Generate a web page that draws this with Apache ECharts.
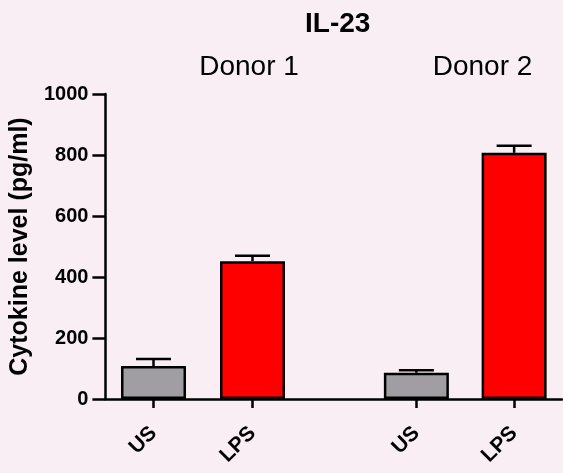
<!DOCTYPE html>
<html>
<head>
<meta charset="utf-8">
<script src="https://cdn.jsdelivr.net/npm/echarts@6/dist/echarts.min.js"></script>
<style>
html,body{margin:0;padding:0;background:#f8eef4;}
#c{width:563px;height:473px;}
</style>
</head>
<body>
<div id="c"></div>
<script>
var titleText = 'IL-23';
var groupNames = ['Donor 1', 'Donor 2'];
var categories = ['US', 'LPS'];
var donor1Mean = [108, 452];
var donor1Err = [23, 18];
var donor2Mean = [86, 807];
var donor2Err = [8, 23];
var yTicks = [0, 200, 400, 600, 800, 1000];
var barColors = ['#a09ea3', '#ff0000'];

var FONT = '"Liberation Sans", Arial, Helvetica, sans-serif';
var chart = echarts.init(document.getElementById('c'));

var gridTop = 94, gridBottom = 74;
var yMin = yTicks[0], yMax = yTicks[yTicks.length - 1], yStep = yTicks[1] - yTicks[0];

function barSeries(idx, means) {
  return {
    type: 'bar', xAxisIndex: idx, yAxisIndex: idx,
    barWidth: 65,
    data: means.map(function (v, i) {
      return { value: v, itemStyle: { color: barColors[i] } };
    }),
    itemStyle: { borderColor: '#000', borderWidth: 2.5 },
    z: 3, silent: true
  };
}
function errSeries(idx, means, errs) {
  return {
    type: 'custom', xAxisIndex: idx, yAxisIndex: idx, z: 2, silent: true,
    data: means.map(function (v, i) { return [i, v, v + errs[i]]; }),
    renderItem: function (params, api) {
      var base = api.coord([api.value(0), api.value(1)]);
      var top = api.coord([api.value(0), api.value(2)]);
      var hw = 17.5;
      var st = { stroke: '#000', lineWidth: 2.5 };
      return { type: 'group', children: [
        { type: 'line', shape: { x1: base[0], y1: base[1], x2: top[0], y2: top[1] }, style: st },
        { type: 'line', shape: { x1: top[0] - hw, y1: top[1], x2: top[0] + hw, y2: top[1] }, style: st }
      ]};
    }
  };
}

function catAxis(idx) {
  return {
    type: 'category', gridIndex: idx, data: categories,
    axisLine: { show: false },
    axisTick: { show: true, alignWithLabel: true, length: 9, lineStyle: { color: '#000', width: 2.5 } },
    axisLabel: { rotate: 45, margin: 31, color: '#000', fontWeight: 'bold', fontSize: 21, fontFamily: FONT }
  };
}
function hiddenY(idx) {
  return { type: 'value', gridIndex: idx, min: yMin, max: yMax, interval: yStep, show: false };
}

var option = {
  backgroundColor: '#f8eef4',
  animation: false,
  grid: [
    { left: 104, right: 1, top: gridTop, bottom: gridBottom },
    { left: 104, width: 198, top: gridTop, bottom: gridBottom },
    { left: 367.5, width: 198, top: gridTop, bottom: gridBottom }
  ],
  xAxis: [
    { type: 'value', gridIndex: 0, min: 0, max: 1,
      axisLine: { show: true, lineStyle: { color: '#000', width: 2.5 } },
      axisTick: { show: false }, axisLabel: { show: false }, splitLine: { show: false } },
    catAxis(1), catAxis(2)
  ],
  yAxis: [
    { type: 'value', gridIndex: 0, min: yMin, max: yMax, interval: yStep,
      name: 'Cytokine level (pg/ml)', nameLocation: 'middle', nameGap: 70,
      nameTextStyle: { color: '#000', fontWeight: 'bold', fontSize: 25, fontFamily: FONT },
      axisLine: { show: true, lineStyle: { color: '#000', width: 2.5 } },
      axisTick: { show: true, length: 13, lineStyle: { color: '#000', width: 2.5 } },
      axisLabel: { margin: 17, color: '#000', fontWeight: 'bold', fontSize: 20, fontFamily: FONT,
        formatter: function (v) { return String(v); } },
      splitLine: { show: false } },
    hiddenY(1), hiddenY(2)
  ],
  graphic: [
    { type: 'text', left: 339 - 34, top: 10, style: { text: titleText, fill: '#000', font: 'bold 28px ' + FONT } },
    { type: 'text', x: 249, y: 67, style: { text: groupNames[0], fill: '#000', font: '28px ' + FONT, align: 'center', verticalAlign: 'middle' } },
    { type: 'text', x: 482.5, y: 67, style: { text: groupNames[1], fill: '#000', font: '28px ' + FONT, align: 'center', verticalAlign: 'middle' } }
  ],
  series: [
    barSeries(1, donor1Mean), errSeries(1, donor1Mean, donor1Err),
    barSeries(2, donor2Mean), errSeries(2, donor2Mean, donor2Err)
  ]
};
chart.setOption(option);
</script>
</body>
</html>
